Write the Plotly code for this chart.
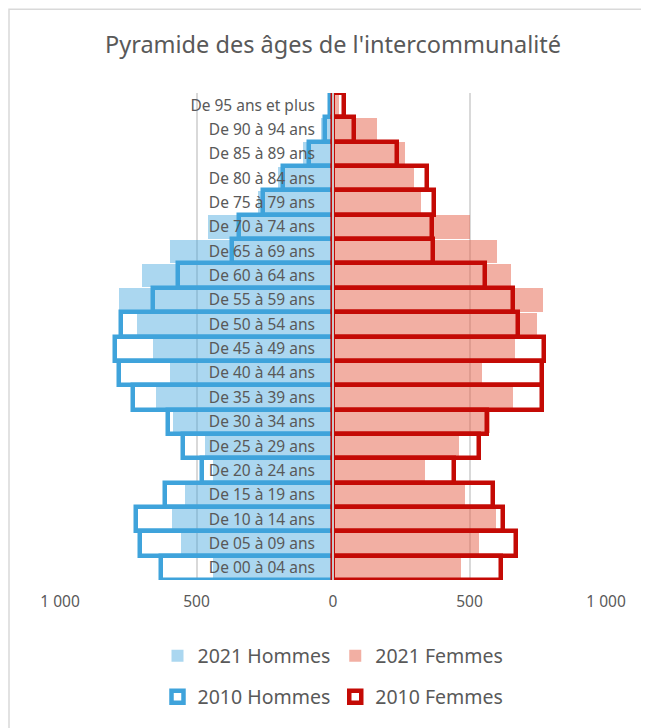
import plotly.graph_objects as go

categories = ["De 00 à 04 ans", "De 05 à 09 ans", "De 10 à 14 ans", "De 15 à 19 ans",
              "De 20 à 24 ans", "De 25 à 29 ans", "De 30 à 34 ans", "De 35 à 39 ans",
              "De 40 à 44 ans", "De 45 à 49 ans", "De 50 à 54 ans", "De 55 à 59 ans",
              "De 60 à 64 ans", "De 65 à 69 ans", "De 70 à 74 ans", "De 75 à 79 ans",
              "De 80 à 84 ans", "De 85 à 89 ans", "De 90 à 94 ans", "De 95 ans et plus"]

hommes_2021 = [440, 557, 590, 542, 440, 470, 586, 648, 597, 659, 718, 784, 700, 597, 458, 275, 200, 110, 45, 8]
femmes_2021 = [469, 535, 597, 483, 337, 462, 575, 659, 546, 667, 747, 769, 651, 600, 502, 322, 297, 264, 161, 22]
hommes_2010 = [630, 707, 722, 615, 480, 549, 604, 733, 784, 798, 777, 659, 568, 370, 344, 256, 183, 88, 29, 10]
femmes_2010 = [615, 670, 623, 586, 443, 535, 564, 766, 766, 773, 678, 659, 556, 367, 362, 370, 344, 233, 77, 40]

tick_vals = [-1000, -500, 0, 500, 1000]
tick_text = ["1 000", "500", "0", "500", "1 000"]

FONT = "Noto Sans"
GREY = "#595959"

fig = go.Figure()
fig.add_trace(go.Bar(
    y=categories, x=[-v for v in hommes_2021], orientation="h", name="2021 Hommes",
    marker=dict(color="rgba(64,164,220,0.44)", line=dict(width=0)), width=0.96,
    legend="legend"))
fig.add_trace(go.Bar(
    y=categories, x=femmes_2021, orientation="h", name="2021 Femmes",
    marker=dict(color="rgba(229,95,71,0.5)", line=dict(width=0)), width=0.96,
    legend="legend"))
fig.add_trace(go.Bar(
    y=categories, x=[-v for v in hommes_2010], orientation="h", name="2010 Hommes",
    marker=dict(color="rgba(0,0,0,0)", line=dict(width=4.5, color="#3FA3DB")), width=1.0,
    legend="legend2"))
fig.add_trace(go.Bar(
    y=categories, x=femmes_2010, orientation="h", name="2010 Femmes",
    marker=dict(color="rgba(0,0,0,0)", line=dict(width=4.5, color="#C40A05")), width=1.0,
    legend="legend2"))

fig.update_layout(
    width=641, height=720,
    margin=dict(l=52, r=43, t=85, b=147),
    paper_bgcolor="white", plot_bgcolor="white",
    barmode="overlay", bargap=0,
    font=dict(family=FONT, color=GREY),
    title=dict(text="Pyramide des âges de l'intercommunalité", x=0.5, xanchor="center",
               xref="paper", y=1 - 37 / 720, yanchor="middle",
               font=dict(size=23.5, color=GREY, family=FONT)),
    xaxis=dict(range=[-1000, 1000], tickvals=tick_vals, ticktext=tick_text,
               showgrid=True, gridcolor="#d9d9d9", gridwidth=1.5, zeroline=False,
               showline=False, ticks="", tickfont=dict(size=15.5, color=GREY), ticklabelstandoff=10),
    yaxis=dict(type="category", categoryorder="array", categoryarray=categories,
               range=[-0.5, 19.5], anchor="free", position=0.5, side="left",
               showgrid=False, zeroline=False, showline=True, linecolor="#c8c8c8", linewidth=2,
               ticks="", tickfont=dict(size=15.5, color=GREY), ticklabelstandoff=14),
    legend=dict(orientation="h", x=0.5, xanchor="center", y=-0.154, yanchor="middle",
                font=dict(size=19.5, color=GREY), itemwidth=30, traceorder="normal"),
    legend2=dict(orientation="h", x=0.5, xanchor="center", y=-0.238, yanchor="middle",
                 font=dict(size=19.5, color=GREY), itemwidth=30, traceorder="normal"),
    shapes=[dict(type="rect", xref="paper", yref="paper", x0=-0.0934, x1=1.3, y0=-0.5, y1=1.172,
                 line=dict(color="#d9d9d9", width=1.5), fillcolor="rgba(0,0,0,0)", layer="below")],
)

fig.write_html("out.html")
